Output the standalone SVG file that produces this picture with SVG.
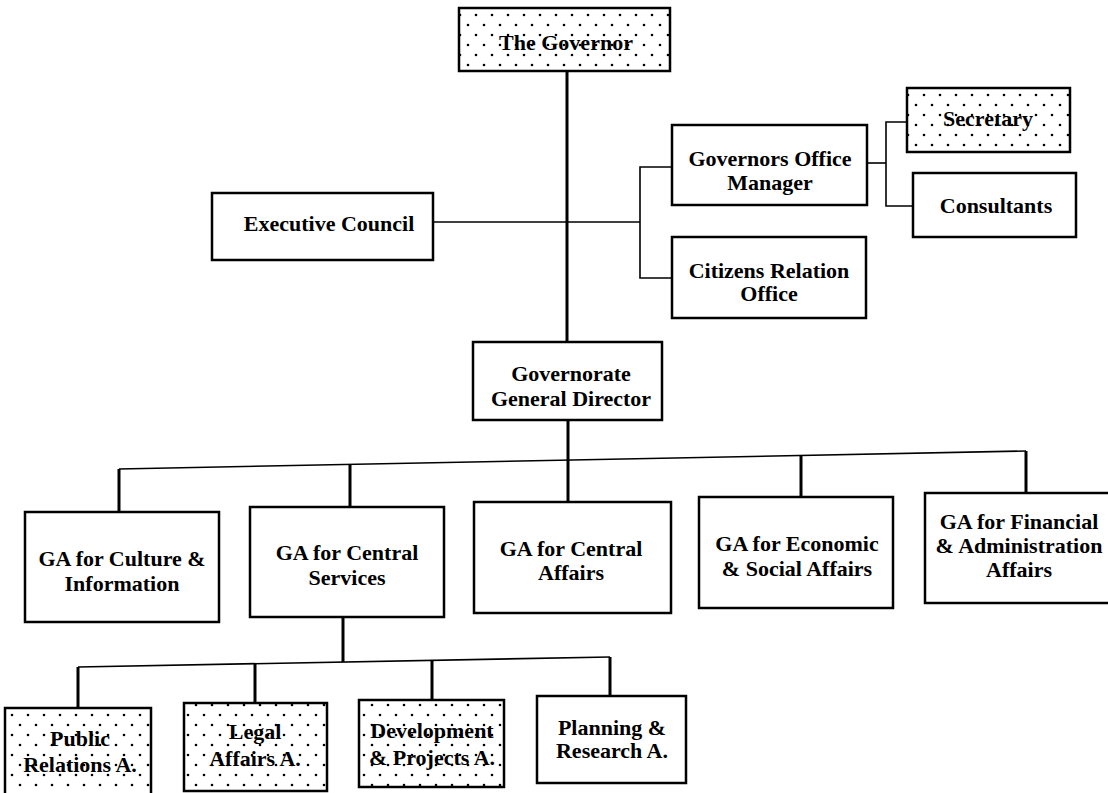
<svg xmlns="http://www.w3.org/2000/svg" width="1108" height="793" viewBox="0 0 1108 793">
  <defs>
    <!-- stipple fill for the shaded units -->
    <pattern id="dots" width="16" height="20" patternUnits="userSpaceOnUse">
      <circle cx="4" cy="5" r="1.3" fill="#000"/>
      <circle cx="12" cy="15" r="1.3" fill="#000"/>
    </pattern>
    <style>
      .box { fill: #fff; stroke: #000; stroke-width: 2.5; }
      .dot { fill: url(#dots); stroke: #000; stroke-width: 2.5; }
      .lbl { font-family: "Liberation Serif", "Times New Roman", serif; font-weight: bold; font-size: 22px; fill: #000; text-anchor: middle; }
      .v { stroke: #000; stroke-width: 3; fill: none; }
      .h { stroke: #000; stroke-width: 1.6; fill: none; }
    </style>
  </defs>
  <rect width="1108" height="793" fill="#fff"/>

  <!-- connectors -->
  <g id="connectors">
    <line class="v" x1="567" y1="71" x2="567" y2="342"/>
    <line class="h" x1="433" y1="222" x2="640" y2="222"/>
    <polyline class="h" points="672,167 640,167 640,278 672,278"/>
    <line class="h" x1="867" y1="163" x2="886" y2="163"/>
    <polyline class="h" points="907,122 886,122 886,206 913,206"/>
    <line class="v" x1="568" y1="420" x2="568" y2="461"/>
    <line class="h" x1="119" y1="469" x2="1026" y2="451"/>
    <line class="v" x1="119" y1="469" x2="119" y2="512"/>
    <line class="v" x1="350" y1="464" x2="350" y2="507"/>
    <line class="v" x1="568" y1="460" x2="568" y2="502"/>
    <line class="v" x1="801" y1="455" x2="801" y2="497"/>
    <line class="v" x1="1026" y1="451" x2="1026" y2="493"/>
    <line class="v" x1="343" y1="617" x2="343" y2="662"/>
    <line class="h" x1="78" y1="667" x2="610" y2="657"/>
    <line class="v" x1="78" y1="667" x2="78" y2="708"/>
    <line class="v" x1="255" y1="664" x2="255" y2="703"/>
    <line class="v" x1="432" y1="660" x2="432" y2="700"/>
    <line class="v" x1="610" y1="657" x2="610" y2="696"/>
  </g>

  <g id="governor">
    <rect class="dot" x="459" y="8" width="211" height="63"/>
    <text class="lbl" x="566" y="50">The Governor</text>
  </g>
  <g id="executive-council">
    <rect class="box" x="212" y="193" width="221" height="67"/>
    <text class="lbl" x="329" y="231">Executive Council</text>
  </g>
  <g id="office-manager">
    <rect class="box" x="672" y="125" width="195" height="80"/>
    <text class="lbl" x="770" y="166">Governors Office</text>
    <text class="lbl" x="770" y="190">Manager</text>
  </g>
  <g id="citizens-relation">
    <rect class="box" x="672" y="237" width="194" height="81"/>
    <text class="lbl" x="769" y="278">Citizens Relation</text>
    <text class="lbl" x="769" y="301">Office</text>
  </g>
  <g id="secretary">
    <rect class="dot" x="907" y="88" width="163" height="64"/>
    <text class="lbl" x="988" y="126">Secretary</text>
  </g>
  <g id="consultants">
    <rect class="box" x="913" y="173" width="163" height="64"/>
    <text class="lbl" x="996" y="213">Consultants</text>
  </g>
  <g id="general-director">
    <rect class="box" x="473" y="342" width="189" height="78"/>
    <text class="lbl" x="571" y="381">Governorate</text>
    <text class="lbl" x="571" y="406">General Director</text>
  </g>

  <g id="ga-culture">
    <rect class="box" x="25" y="512" width="194" height="110"/>
    <text class="lbl" x="122" y="566">GA for Culture &amp;</text>
    <text class="lbl" x="122" y="591">Information</text>
  </g>
  <g id="ga-central-services">
    <rect class="box" x="250" y="507" width="194" height="110"/>
    <text class="lbl" x="347" y="560">GA for Central</text>
    <text class="lbl" x="347" y="585">Services</text>
  </g>
  <g id="ga-central-affairs">
    <rect class="box" x="474" y="502" width="197" height="111"/>
    <text class="lbl" x="571" y="556">GA for Central</text>
    <text class="lbl" x="571" y="580">Affairs</text>
  </g>
  <g id="ga-economic-social">
    <rect class="box" x="699" y="497" width="194" height="111"/>
    <text class="lbl" x="797" y="551">GA for Economic</text>
    <text class="lbl" x="797" y="576">&amp; Social Affairs</text>
  </g>
  <g id="ga-financial-admin">
    <rect class="box" x="925" y="493" width="200" height="110"/>
    <text class="lbl" x="1019" y="529">GA for Financial</text>
    <text class="lbl" x="1019" y="553">&amp; Administration</text>
    <text class="lbl" x="1019" y="577">Affairs</text>
  </g>

  <g id="public-relations">
    <rect class="dot" x="5" y="708" width="146" height="95"/>
    <text class="lbl" x="80" y="746">Public</text>
    <text class="lbl" x="80" y="772">Relations A.</text>
  </g>
  <g id="legal-affairs">
    <rect class="dot" x="184" y="703" width="143" height="88"/>
    <text class="lbl" x="255" y="739">Legal</text>
    <text class="lbl" x="255" y="766">Affairs A.</text>
  </g>
  <g id="development-projects">
    <rect class="dot" x="359" y="700" width="145" height="87"/>
    <text class="lbl" x="432" y="738">Development</text>
    <text class="lbl" x="432" y="765">&amp; Projects A.</text>
  </g>
  <g id="planning-research">
    <rect class="box" x="537" y="696" width="149" height="87"/>
    <text class="lbl" x="612" y="735">Planning &amp;</text>
    <text class="lbl" x="612" y="758">Research A.</text>
  </g>
</svg>
